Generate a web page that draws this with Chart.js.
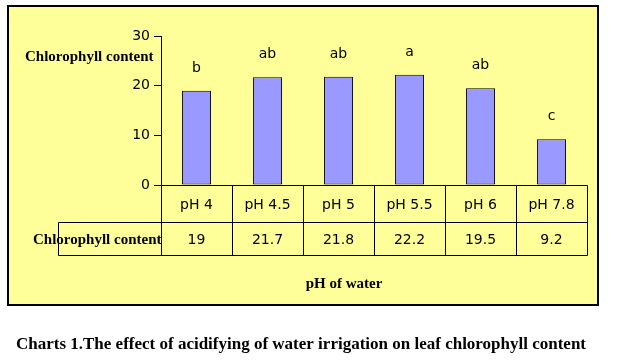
<!DOCTYPE html>
<html><head><meta charset="utf-8">
<script src="https://cdn.jsdelivr.net/npm/chart.js@4"></script>
<style>html,body{margin:0;padding:0;background:#fff}#c{display:block}</style>
</head><body>
<canvas id="c" width="618" height="363"></canvas>
<script>
const categories = ['pH 4', 'pH 4.5', 'pH 5', 'pH 5.5', 'pH 6', 'pH 7.8'];
const values = [19, 21.7, 21.8, 22.2, 19.5, 9.2];
const letters = ['b', 'ab', 'ab', 'a', 'ab', 'c'];
const yTicks = [0, 10, 20, 30];
const seriesName = 'Chlorophyll content';
const axisTitle = 'pH of water';
const caption = 'Charts 1.The effect of acidifying of water irrigation on leaf chlorophyll content';

const SANS = '"DejaVu Sans", Verdana, sans-serif';
const SERIF = '"Liberation Serif", "Times New Roman", serif';

const decor = {
  id: 'decor',
  beforeDraw(chart) {
    const c = chart.ctx;
    c.save();
    c.fillStyle = '#ffffff';
    c.fillRect(0, 0, chart.width, chart.height);
    c.fillStyle = '#FFFF99';
    c.fillRect(8, 6, 590, 299);
    c.strokeStyle = '#000';
    c.lineWidth = 2;
    c.strokeRect(8, 6, 590, 299);
    c.fillStyle = '#000';
    c.font = 'bold 17px ' + SERIF;
    c.textAlign = 'center';
    c.textBaseline = 'middle';
    c.fillText(caption, 301, 345);
    c.restore();
  },
  afterDraw(chart) {
    const c = chart.ctx;
    const ca = chart.chartArea;
    const xs = chart.scales.x;
    const meta = chart.getDatasetMeta(0);
    const left = Math.round(ca.left) + 0.5;
    const right = Math.round(ca.right) + 0.5;
    const top = Math.round(ca.bottom) + 0.5;
    const mid = top + 37;
    const bot = top + 70;
    const rowLeft = 58.5;
    const n = categories.length;
    const cw = (ca.right - ca.left) / n;
    c.save();
    c.strokeStyle = '#000';
    c.lineWidth = 1;
    c.beginPath();
    c.moveTo(left, top); c.lineTo(right, top);
    c.moveTo(rowLeft, mid); c.lineTo(right, mid);
    c.moveTo(rowLeft, bot); c.lineTo(right, bot);
    c.moveTo(rowLeft, mid); c.lineTo(rowLeft, bot);
    for (let i = 0; i <= n; i++) {
      const x = Math.round(ca.left + i * cw) + 0.5;
      c.moveTo(x, top); c.lineTo(x, bot);
    }
    c.stroke();

    c.fillStyle = '#000';
    c.textAlign = 'center';
    c.textBaseline = 'middle';
    c.font = '14px ' + SANS;
    categories.forEach((cat, i) => {
      const x = xs.getPixelForValue(i);
      c.fillText(cat, x, (top + mid) / 2 + 1);
      c.fillText(String(values[i]), x, (mid + bot) / 2 + 1);
    });

    // significance letters
    c.font = '14px ' + SANS;
    c.textBaseline = 'alphabetic';
    meta.data.forEach((bar, i) => {
      c.fillText(letters[i], bar.x, bar.y - 19);
    });

    c.font = 'bold 15px ' + SERIF;
    c.textAlign = 'left';
    c.textBaseline = 'middle';
    c.fillText(seriesName, 25, 57);
    c.fillText(seriesName, 33, (mid + bot) / 2 + 1);
    c.textAlign = 'center';
    c.fillText(axisTitle, 344, 284);
    c.restore();
  }
};

new Chart(document.getElementById('c'), {
  type: 'bar',
  data: {
    labels: categories,
    datasets: [{
      label: seriesName,
      data: values,
      backgroundColor: '#9999FF',
      borderColor: '#000000',
      borderWidth: 1,
      borderSkipped: false,
      barPercentage: 0.41,
      categoryPercentage: 1.0
    }]
  },
  options: {
    responsive: false,
    animation: false,
    devicePixelRatio: 1,
    layout: { padding: { left: 101, right: 31, top: 36, bottom: 178 } },
    plugins: { legend: { display: false }, tooltip: { enabled: false }, title: { display: false } },
    scales: {
      x: { display: false },
      y: {
        min: 0, max: 30,
        afterFit(s) { s.width = 60; },
        afterBuildTicks(s) { s.ticks = yTicks.map(v => ({ value: v })); },
        ticks: { color: '#000', font: { family: SANS, size: 14 }, padding: 4 },
        grid: { drawOnChartArea: false, drawTicks: true, tickLength: 7, color: '#000' },
        border: { display: true, color: '#000', width: 1 }
      }
    }
  },
  plugins: [decor]
});
</script>
</body></html>
